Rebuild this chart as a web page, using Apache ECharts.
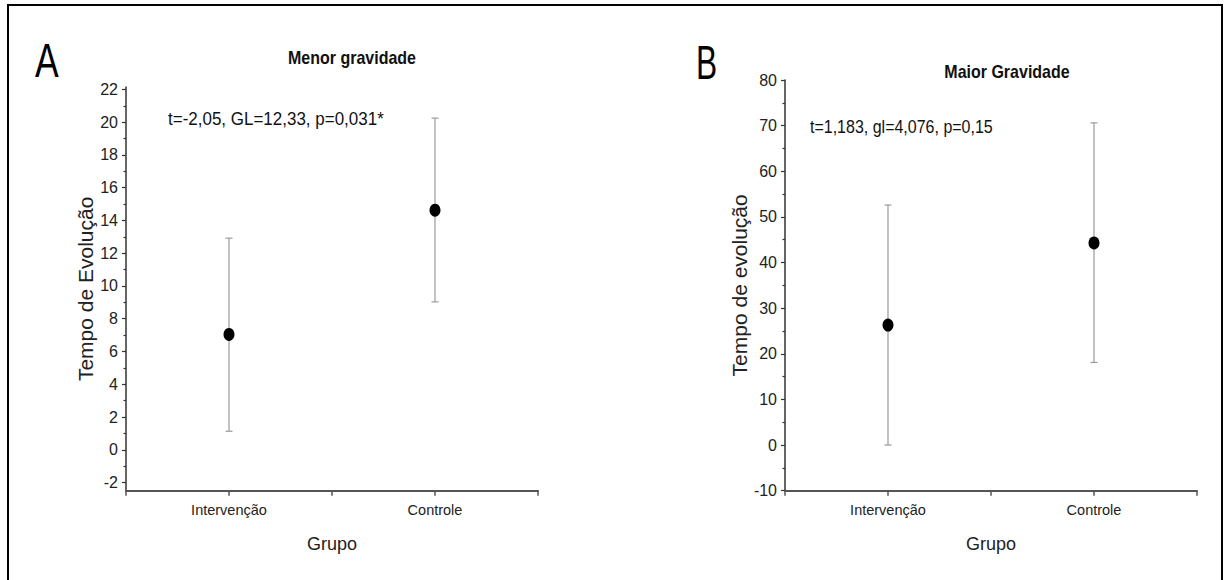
<!DOCTYPE html>
<html>
<head>
<meta charset="utf-8">
<script src="https://cdn.jsdelivr.net/npm/echarts@6.0.0/dist/echarts.min.js"></script>
<style>
  html, body { margin: 0; padding: 0; background: #fff; }
  #chart { width: 1225px; height: 580px; }
</style>
</head>
<body>
<div id="chart"></div>
<script>
// groups on the x axis
const categories = ['Intervenção', 'Controle'];

// panel A - menor gravidade (mean and interval ends)
const meanA = [7.04, 14.63];
const lowA = [1.13, 9.03];
const highA = [12.92, 20.25];

// panel B - maior gravidade
const meanB = [26.3, 44.3];
const lowB = [0.0, 18.1];
const highB = [52.6, 70.6];

// tick values
const ticksA = [-2, 0, 2, 4, 6, 8, 10, 12, 14, 16, 18, 20, 22];
const minorA = [-1, 1, 3, 5, 7, 9, 11, 13, 15, 17, 19, 21];
const ticksB = [-10, 0, 10, 20, 30, 40, 50, 60, 70, 80];
const minorB = [-5, 5, 15, 25, 35, 45, 55, 65, 75];

const titles = ['Menor gravidade', 'Maior Gravidade'];
const notes = ['t=-2,05, GL=12,33, p=0,031*', 't=1,183, gl=4,076, p=0,15'];
const yNames = ['Tempo de Evolução', 'Tempo de evolução'];
const xName = 'Grupo';

const FONT = '"Liberation Sans", Arial, sans-serif';
const AXIS_COLOR = '#333';

const chart = echarts.init(document.getElementById('chart'), null, { renderer: 'svg' });

function xAxisFor(grid) {
    return {
        type: 'value', gridIndex: grid, min: 0, max: 4, interval: 1,
        name: xName, nameLocation: 'middle', nameGap: 44,
        nameTextStyle: { fontFamily: FONT, fontSize: 18, color: '#222' },
        axisLine: { onZero: false, lineStyle: { color: '#555', width: 2 } },
        axisTick: { length: 5, lineStyle: { color: '#555', width: 1.5 } },
        axisLabel: {
            margin: 12, fontFamily: FONT, fontSize: 14.5, color: '#222',
            formatter: v => (v === 1 || v === 3) ? categories[(v - 1) / 2] : ''
        },
        splitLine: { show: false }
    };
}

function yAxisFor(grid, min, max, majors, nameGap, yName) {
    return {
        type: 'value', gridIndex: grid, min: min, max: max,
        name: yName, nameLocation: 'middle', nameGap: nameGap,
        nameTextStyle: { fontFamily: FONT, fontSize: 21, color: '#222' },
        axisLine: { show: true, onZero: false, lineStyle: { color: AXIS_COLOR, width: 1.5 } },
        axisTick: { show: true, length: 4, customValues: majors, lineStyle: { color: AXIS_COLOR, width: 1.2 } },
        axisLabel: { margin: 8, customValues: majors, fontFamily: FONT, fontSize: 16, color: '#222' },
        splitLine: { show: false }
    };
}

function minorAxisFor(grid, min, max, minors) {
    return {
        type: 'value', gridIndex: grid, min: min, max: max, position: 'left',
        axisLine: { show: false, onZero: false },
        axisTick: { show: true, length: 2.5, customValues: minors, lineStyle: { color: AXIS_COLOR, width: 1.2 } },
        axisLabel: { show: false },
        splitLine: { show: false }
    };
}

function errorBars(xIdx, yIdx, low, high) {
    return {
        type: 'custom', xAxisIndex: xIdx, yAxisIndex: yIdx, z: 2,
        data: categories.map((c, i) => [2 * i + 1, low[i], high[i]]),
        renderItem: (params, api) => {
            const x = api.value(0);
            const top = api.coord([x, api.value(2)]);
            const bot = api.coord([x, api.value(1)]);
            const cap = 3.5;
            const style = { stroke: '#9a9a9a', lineWidth: 1.2 };
            return {
                type: 'group',
                children: [
                    { type: 'line', shape: { x1: top[0], y1: top[1], x2: bot[0], y2: bot[1] }, style: style },
                    { type: 'line', shape: { x1: top[0] - cap, y1: top[1], x2: top[0] + cap, y2: top[1] }, style: style },
                    { type: 'line', shape: { x1: bot[0] - cap, y1: bot[1], x2: bot[0] + cap, y2: bot[1] }, style: style }
                ]
            };
        }
    };
}

function means(xIdx, yIdx, mean) {
    return {
        type: 'scatter', xAxisIndex: xIdx, yAxisIndex: yIdx, z: 3,
        symbol: 'circle', symbolSize: [11, 13],
        itemStyle: { color: '#000', opacity: 1 },
        data: categories.map((c, i) => [2 * i + 1, mean[i]])
    };
}

function text(str, x, y, size, opts) {
    opts = opts || {};
    return {
        type: 'text', x: x, y: y, scaleX: opts.scaleX || 1, scaleY: opts.scaleY || 1, z: 10,
        style: {
            text: str, x: 0, y: 0, fill: opts.fill || '#111',
            font: (opts.weight || 'normal') + ' ' + size + 'px ' + FONT,
            textAlign: opts.align || 'left', textVerticalAlign: 'middle'
        }
    };
}

const option = {
    animation: false,
    backgroundColor: '#fff',
    grid: [
        { left: 126, top: 87, width: 412, bottom: 89.3 },
        { left: 785, top: 80, width: 412, bottom: 89.3 }
    ],
    xAxis: [xAxisFor(0), xAxisFor(1)],
    yAxis: [
        yAxisFor(0, -2.5, 22.15, ticksA, 24, yNames[0]),
        minorAxisFor(0, -2.5, 22.15, minorA),
        yAxisFor(1, -10, 80, ticksB, 31, yNames[1]),
        minorAxisFor(1, -10, 80, minorB)
    ],
    series: [
        errorBars(0, 0, lowA, highA),
        means(0, 0, meanA),
        errorBars(1, 2, lowB, highB),
        means(1, 2, meanB)
    ],
    graphic: [
        { type: 'rect', z: 0, shape: { x: 8, y: 5, width: 1214, height: 600 },
          style: { fill: 'none', stroke: '#000', lineWidth: 2 } },
        text('A', 35, 61, 48, { scaleX: 0.74, fill: '#000' }),
        text('B', 696, 62, 48, { scaleX: 0.66, fill: '#000' }),
        text(titles[0], 352, 58, 16, { weight: 'bold', align: 'center', scaleY: 1.15 }),
        text(titles[1], 1007, 72, 16, { weight: 'bold', align: 'center', scaleY: 1.15 }),
        text(notes[0], 168, 119, 17, { scaleY: 1.12 }),
        text(notes[1], 810, 127, 16, { scaleY: 1.15 })
    ]
};

chart.setOption(option);
</script>
</body>
</html>
